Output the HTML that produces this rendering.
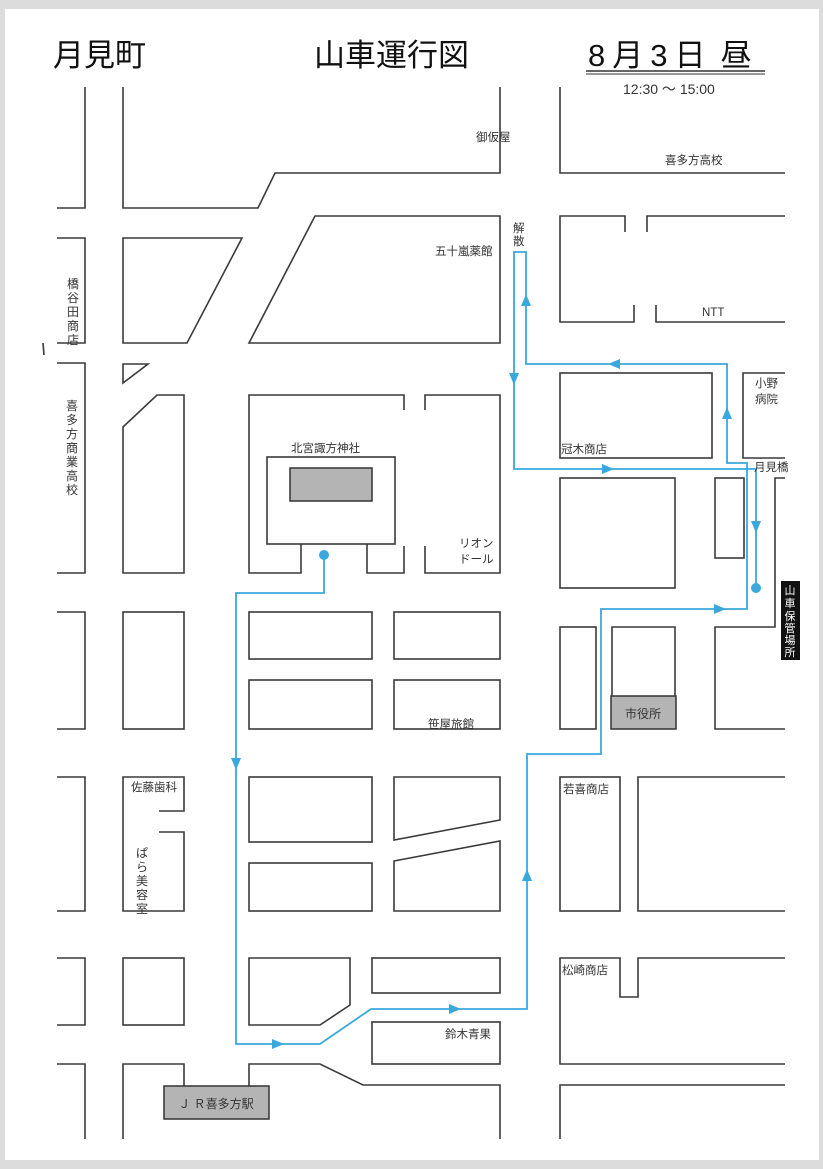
<!DOCTYPE html>
<html><head><meta charset="utf-8"><style>
html,body{margin:0;padding:0;background:#dcdcdc;}
svg{display:block;}
text{font-family:"Liberation Sans","Noto Sans CJK JP",sans-serif;fill:#333;}
</style></head><body>
<svg width="823" height="1169" viewBox="0 0 823 1169" xmlns="http://www.w3.org/2000/svg">
<rect x="0" y="0" width="823" height="1169" fill="#dcdcdc"/>
<rect x="5" y="9" width="814" height="1151" fill="#fff"/>
<text x="53" y="66" font-size="31" style="fill:#111">月見町</text>
<text x="314" y="66" font-size="31" style="fill:#111">山車運行図</text>
<text x="588" y="66" font-size="31" style="fill:#111;letter-spacing:7px">8月3日<tspan dx="8">昼</tspan></text>
<line x1="586" y1="71" x2="765" y2="71" stroke="#333" stroke-width="1.5"/>
<line x1="586" y1="74" x2="765" y2="74" stroke="#333" stroke-width="1"/>
<text x="623" y="94" font-size="14">12:30 ～ 15:00</text>
<g fill="none" stroke="#3a3a3a" stroke-width="1.6">
<polyline points="85,87 85,208 57,208"/>
<polyline points="123,87 123,208 258,208 275,173 500,173 500,87"/>
<polyline points="560,87 560,173 785,173"/>
<polyline points="57,238 85,238 85,343 57,343"/>
<polygon points="123,238 242,238 187,343 123,343"/>
<polygon points="315,216 500,216 500,343 249,343"/>
<polyline points="625,232 625,216 560,216 560,322 634,322 634,305"/>
<polyline points="647,232 647,216 785,216"/>
<polyline points="656,305 656,322 785,322"/>
<line x1="43" y1="343" x2="44" y2="355"/>
<polyline points="57,363 85,363 85,573 57,573"/>
<polygon points="123,364 148,364 123,383"/>
<polygon points="123,427 157,395 184,395 184,573 123,573"/>
<polyline points="404,410 404,395 249,395 249,573 301,573 301,544"/>
<rect x="267" y="457" width="128" height="87"/>
<polyline points="367,544 367,573 404,573 404,546"/>
<polyline points="425,410 425,395 500,395 500,573 425,573 425,546"/>
<rect x="560" y="373" width="152" height="85"/>
<polyline points="785,373 743,373 743,458 785,458"/>
<rect x="560" y="478" width="115" height="110"/>
<rect x="715" y="478" width="29" height="80"/>
<polyline points="785,478 775,478 775,627 715,627 715,729 785,729"/>
<polyline points="57,612 85,612 85,729 57,729"/>
<rect x="123" y="612" width="61" height="117"/>
<rect x="249" y="612" width="123" height="47"/>
<rect x="394" y="612" width="106" height="47"/>
<rect x="249" y="680" width="123" height="49"/>
<rect x="394" y="680" width="106" height="49"/>
<rect x="560" y="627" width="36" height="102"/>
<polyline points="612,696 612,627 675,627 675,696"/>
<polyline points="57,777 85,777 85,911 57,911"/>
<polyline points="159,811 184,811 184,777 123,777 123,911 184,911 184,832 159,832"/>
<rect x="249" y="777" width="123" height="65"/>
<polygon points="394,777 500,777 500,820 394,840"/>
<rect x="249" y="863" width="123" height="48"/>
<polygon points="394,861 500,841 500,911 394,911"/>
<rect x="560" y="777" width="60" height="134"/>
<polyline points="785,777 638,777 638,911 785,911"/>
<polyline points="57,958 85,958 85,1025 57,1025"/>
<rect x="123" y="958" width="61" height="67"/>
<polygon points="249,958 350,958 350,1005 320,1025 249,1025"/>
<rect x="372" y="958" width="128" height="35"/>
<rect x="372" y="1022" width="128" height="42"/>
<polyline points="785,958 638,958 638,997 620,997 620,958 560,958 560,1064 785,1064"/>
<polyline points="57,1064 85,1064 85,1139"/>
<polyline points="123,1139 123,1064 184,1064 184,1086"/>
<polyline points="249,1086 249,1064 320,1064 363,1085 500,1085 500,1139"/>
<polyline points="560,1139 560,1085 785,1085"/>
</g>
<rect x="290" y="468" width="82" height="33" fill="#b4b4b4" stroke="#333" stroke-width="1.5"/>
<rect x="611" y="696" width="65" height="33" fill="#b4b4b4" stroke="#333" stroke-width="1.5"/>
<text x="643" y="718" font-size="12" text-anchor="middle">市役所</text>
<rect x="164" y="1086" width="105" height="33" fill="#b4b4b4" stroke="#333" stroke-width="1.5"/>
<text x="216" y="1108" font-size="12" text-anchor="middle">Ｊ Ｒ喜多方駅</text>
<rect x="781" y="581" width="19" height="79" fill="#111"/>
<text font-size="11" style="fill:#fff" text-anchor="middle"><tspan x="790" y="594">山</tspan><tspan x="790" y="607">車</tspan><tspan x="790" y="620">保</tspan><tspan x="790" y="632">管</tspan><tspan x="790" y="644">場</tspan><tspan x="790" y="656">所</tspan></text>
<g fill="none" stroke="#3aa8dc" stroke-width="1.8">
<polyline points="324,555 324,593 236,593 236,1044 320,1044 371,1009 527,1009 527,754 601,754 601,609 747,609 747,463 727,463 727,364 526,364 526,252 514,252 514,469 756,469 756,588"/>
</g>
<g fill="#3aa8dc">
<circle cx="324" cy="555" r="5"/>
<circle cx="756" cy="588" r="5"/>
<polygon points="231,758 241,758 236,770"/>
<polygon points="272,1039 272,1049 284,1044"/>
<polygon points="449,1004 449,1014 461,1009"/>
<polygon points="522,881 532,881 527,869"/>
<polygon points="714,604 714,614 726,609"/>
<polygon points="722,419 732,419 727,407"/>
<polygon points="620,359 620,369 608,364"/>
<polygon points="521,306 531,306 526,294"/>
<polygon points="509,373 519,373 514,385"/>
<polygon points="602,464 602,474 614,469"/>
<polygon points="751,521 761,521 756,533"/>
</g>
<g font-size="11.5">
<text x="476" y="141">御仮屋</text>
<text x="665" y="164">喜多方高校</text>
<text x="435" y="255">五十嵐薬館</text>
<text x="513" y="232">解</text><text x="513" y="245">散</text>
<text x="702" y="316">NTT</text>
<text x="561" y="453">冠木商店</text>
<text x="755" y="387">小野</text><text x="755" y="403">病院</text>
<text x="754" y="471">月見橋</text>
<text x="291" y="452">北宮諏方神社</text>
<text x="459" y="547">リオン</text><text x="459" y="563">ドール</text>
<text x="428" y="728">笹屋旅館</text>
<text x="131" y="791">佐藤歯科</text>
<text x="563" y="793">若喜商店</text>
<text x="562" y="974">松崎商店</text>
<text x="445" y="1038">鈴木青果</text>
</g>
<g font-size="12" text-anchor="middle">
<text x="73" y="288">橋</text><text x="73" y="302">谷</text><text x="73" y="316">田</text><text x="73" y="330">商</text><text x="73" y="344">店</text>
<text x="72" y="410">喜</text><text x="72" y="424">多</text><text x="72" y="438">方</text><text x="72" y="452">商</text><text x="72" y="466">業</text><text x="72" y="480">高</text><text x="72" y="494">校</text>
<text x="142" y="857">ぱ</text><text x="142" y="871">ら</text><text x="142" y="885">美</text><text x="142" y="899">容</text><text x="142" y="913">室</text>
</g>
</svg>
</body></html>
